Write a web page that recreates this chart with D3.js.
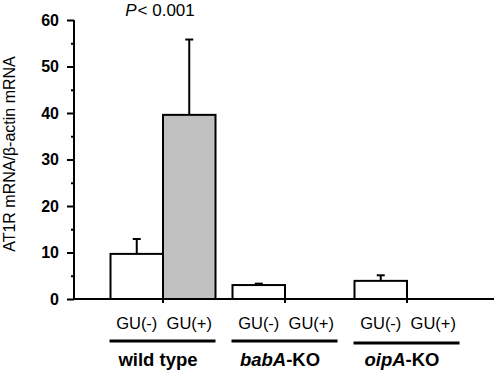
<!DOCTYPE html>
<html><head><meta charset="utf-8">
<script src="https://cdn.jsdelivr.net/npm/d3@7"></script>
<style>body{margin:0;background:#fff;} svg{display:block;} text{font-family:"Liberation Sans",Arial,sans-serif;}</style>
</head><body><svg id="c" width="494" height="371"></svg>
<script>
const groups = ["wild type", "babA-KO", "oipA-KO"];
const groupItalic = ["", "babA", "oipA"];
const conditions = ["GU(-)", "GU(+)"];
const means = [[9.7, 39.6], [3.0, 0], [3.9, 0]];
const errors = [[3.2, 16.2], [0.3, 0], [1.2, 0]];
const yTicks = [0, 10, 20, 30, 40, 50, 60];
const yMinorTicks = [5, 15, 25, 35, 45, 55];
const yLabel = "AT1R mRNA/β-actin mRNA";
const pLabel = ["P", "< 0.001"];

const svg = d3.select("#c");
const y = d3.scaleLinear().domain([0, 60]).range([299, 20]);
const x0 = d3.scaleBand().domain(groups).range([102, 468]);
const x1 = d3.scaleBand().domain(conditions).range([-52.5, 52.5]);
const axX = 74;

const data = [];
groups.forEach((g, gi) => conditions.forEach((c, ci) => data.push({g, c, v: means[gi][ci], e: errors[gi][ci]})));
const cx = d => x0(d.g) + x0.bandwidth() / 2 + x1(d.c);

svg.append("g").selectAll("rect").data(data.filter(d => d.v > 0)).join("rect")
  .attr("x", d => cx(d))
  .attr("y", d => y(d.v))
  .attr("width", x1.bandwidth())
  .attr("height", d => y(0) - y(d.v))
  .attr("fill", d => d.c === "GU(+)" ? "#c0c0c0" : "#fff")
  .attr("stroke", "#000").attr("stroke-width", 2);

const eb = svg.append("g").selectAll("g").data(data.filter(d => d.e > 0)).join("g");
eb.append("line")
  .attr("x1", d => cx(d) + x1.bandwidth() / 2).attr("x2", d => cx(d) + x1.bandwidth() / 2)
  .attr("y1", d => y(d.v)).attr("y2", d => y(d.v + d.e))
  .attr("stroke", "#000").attr("stroke-width", 2);
eb.append("line")
  .attr("x1", d => cx(d) + x1.bandwidth() / 2 - 4).attr("x2", d => cx(d) + x1.bandwidth() / 2 + 4)
  .attr("y1", d => y(d.v + d.e)).attr("y2", d => y(d.v + d.e))
  .attr("stroke", "#000").attr("stroke-width", 2);

const yAxis = svg.append("g").attr("transform", `translate(${axX},0)`)
  .call(d3.axisLeft(y).tickValues(yTicks).tickSize(7).tickPadding(8).tickFormat(d3.format("d")));
yAxis.select(".domain").remove();
yAxis.selectAll("line").attr("stroke", "#000").attr("stroke-width", 2);
yAxis.selectAll("text").attr("font-size", 16).attr("font-weight", "bold").attr("fill", "#000")
  .attr("font-family", "Liberation Sans, Arial, sans-serif");
const yMinor = svg.append("g").attr("transform", `translate(${axX},0)`)
  .call(d3.axisLeft(y).tickValues(yMinorTicks).tickSize(3).tickFormat(""));
yMinor.select(".domain").remove();
yMinor.selectAll("line").attr("stroke", "#000").attr("stroke-width", 2);
svg.append("line").attr("x1", axX).attr("x2", axX).attr("y1", y(60)).attr("y2", y(0) + 1)
  .attr("stroke", "#000").attr("stroke-width", 2);

svg.append("line").attr("x1", axX - 1).attr("x2", 494).attr("y1", y(0)).attr("y2", y(0))
  .attr("stroke", "#000").attr("stroke-width", 2);
svg.append("g").selectAll("line").data(groups).join("line")
  .attr("x1", g => x0(g) + x0.bandwidth() / 2).attr("x2", g => x0(g) + x0.bandwidth() / 2)
  .attr("y1", y(0)).attr("y2", y(0) + 4)
  .attr("stroke", "#000").attr("stroke-width", 2);

svg.append("g").selectAll("text").data(data).join("text")
  .attr("x", d => cx(d) + x1.bandwidth() / 2)
  .attr("y", 329)
  .attr("text-anchor", "middle").attr("font-size", 16.5).attr("fill", "#000")
  .text(d => d.c);

svg.append("g").selectAll("line").data(groups).join("line")
  .attr("x1", g => x0(g) + x0.bandwidth() / 2 + x1.range()[0] - 1)
  .attr("x2", g => x0(g) + x0.bandwidth() / 2 + x1.range()[1])
  .attr("y1", (g, i) => i === 2 ? 343 : 341).attr("y2", (g, i) => i === 2 ? 343 : 341)
  .attr("stroke", "#000").attr("stroke-width", 3);

const gl = svg.append("g").selectAll("text").data(groups).join("text")
  .attr("x", g => x0(g) + x0.bandwidth() / 2 - 5)
  .attr("y", 366)
  .attr("text-anchor", "middle").attr("font-size", 18.5).attr("font-weight", "bold").attr("fill", "#000");
gl.each(function(g, i) {
  const t = d3.select(this);
  const it = groupItalic[i];
  if (it && g.startsWith(it)) {
    t.append("tspan").attr("font-style", "italic").text(it);
    t.append("tspan").text(g.slice(it.length));
  } else t.text(g);
});

svg.append("text")
  .attr("transform", `translate(15,154) rotate(-90)`)
  .attr("text-anchor", "middle").attr("font-size", 16).attr("fill", "#000")
  .text(yLabel);

const pt = svg.append("text").attr("x", 160).attr("y", 16)
  .attr("text-anchor", "middle").attr("font-size", 17).attr("fill", "#000");
pt.append("tspan").attr("font-style", "italic").text(pLabel[0]);
pt.append("tspan").attr("dx", 1).text(pLabel[1]);
</script></body></html>
